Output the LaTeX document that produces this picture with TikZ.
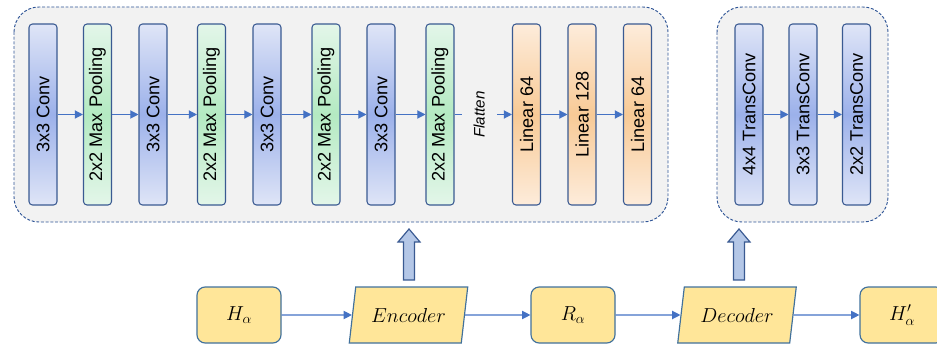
\documentclass[tikz,border=0pt]{standalone}
\usepackage{fontspec}
\setmainfont{Liberation Sans}
\usetikzlibrary{shapes.geometric,arrows.meta}

\definecolor{convlight}{HTML}{DFE5F7}
\definecolor{convdark}{HTML}{9CB1EA}
\definecolor{poollight}{HTML}{E3F6E9}
\definecolor{pooldark}{HTML}{B4EAC2}
\definecolor{linlight}{HTML}{FDECDB}
\definecolor{lindark}{HTML}{F8CA96}
\definecolor{barline}{HTML}{3A5A92}
\definecolor{panelfill}{HTML}{F2F2F2}
\definecolor{panelline}{HTML}{2F5597}
\definecolor{flowblue}{HTML}{4472C4}
\definecolor{ioyellow}{HTML}{FFE699}
\definecolor{ioline}{HTML}{41719C}
\definecolor{blockfill}{HTML}{B4C7E7}

\begin{document}
\begin{tikzpicture}[x=0.03cm,y=-0.03cm,
    bar/.style={draw=barline,line width=0.9pt,rounded corners=3pt,
        minimum width=0.84cm,minimum height=5.43cm,inner sep=0pt,
        font=\fontsize{15.5}{18}\selectfont},
    convbar/.style={bar,top color=convlight,bottom color=convlight,middle color=convdark},
    poolbar/.style={bar,top color=poollight,bottom color=poollight,middle color=pooldark},
    linbar/.style={bar,top color=linlight,bottom color=linlight,middle color=lindark},
    panel/.style={draw=panelline,fill=panelfill,dash pattern=on 2.5pt off 1.5pt,
        line width=0.8pt,rounded corners=0.75cm},
    flow/.style={draw=flowblue,line width=1pt,-{Triangle[width=7pt,length=7pt]}},
    iobox/.style={draw=ioline,fill=ioyellow,line width=1pt,rounded corners=7pt,
        minimum width=2.52cm,minimum height=1.68cm,font=\fontsize{18}{21}\selectfont},
    slantbox/.style={draw=ioline,fill=ioyellow,line width=1pt,shape=trapezium,
        trapezium left angle=77,trapezium right angle=103,trapezium stretches=true,
        minimum width=3.57cm,minimum height=1.68cm,font=\fontsize{18}{21}\selectfont},
    blockarrow/.style={draw=barline,fill=blockfill,line width=1pt}]

    %% picture frame
    \useasboundingbox (0,0) rectangle (937,345);

    %% dashed panels
    \draw[panel] (14,7) rectangle (668,222);
    \draw[panel] (717,7) rectangle (888,222);

    %% encoder layers
    \node[convbar] (c1) at (43,114.5) {\rotatebox{90}{3x3 Conv}};
    \node[poolbar] (p1) at (97.5,114.5) {\rotatebox{90}{2x2 Max Pooling}};
    \node[convbar] (c2) at (153,114.5) {\rotatebox{90}{3x3 Conv}};
    \node[poolbar] (p2) at (211.5,114.5) {\rotatebox{90}{2x2 Max Pooling}};
    \node[convbar] (c3) at (267,114.5) {\rotatebox{90}{3x3 Conv}};
    \node[poolbar] (p3) at (326,114.5) {\rotatebox{90}{2x2 Max Pooling}};
    \node[convbar] (c4) at (381,114.5) {\rotatebox{90}{3x3 Conv}};
    \node[poolbar] (p4) at (440,114.5) {\rotatebox{90}{2x2 Max Pooling}};
    \node[linbar] (l1) at (526.5,114.5) {\rotatebox{90}{Linear 64}};
    \node[linbar] (l2) at (582,114.5) {\rotatebox{90}{Linear 128}};
    \node[linbar] (l3) at (637.5,114.5) {\rotatebox{90}{Linear 64}};

    %% decoder layers
    \node[convbar] (t1) at (749,114.5) {\rotatebox{90}{4x4 TransConv}};
    \node[convbar] (t2) at (803,114.5) {\rotatebox{90}{3x3 TransConv}};
    \node[convbar] (t3) at (856.5,114.5) {\rotatebox{90}{2x2 TransConv}};

    %% arrows between layers
    \foreach \a/\b in {c1/p1,p1/c2,c2/p2,p2/c3,c3/p3,p3/c4,c4/p4,l1/l2,l2/l3,t1/t2,t2/t3}
        \draw[flow] (\a) -- (\b);
    \draw[flow] (p4) -- (l1)
        node[pos=0.43,fill=panelfill,inner sep=0pt,minimum height=1.05cm,rotate=90,
             font=\fontsize{13}{15}\selectfont\itshape] (flat) {Flatten};

    %% bottom row
    \node[iobox] (ha) at (239,315) {$H_\alpha$};
    \node[slantbox] (enc) at (408.5,315) {$Encoder$};
    \node[iobox] (ra) at (573,315) {$R_\alpha$};
    \node[slantbox] (dec) at (737,315) {$Decoder$};
    \node[iobox] (hb) at (902,315) {$H_\alpha'$};

    \draw[flow] (ha) -- (enc);
    \draw[flow] (enc) -- (ra);
    \draw[flow] (ra) -- (dec);
    \draw[flow] (dec) -- (hb);

    %% block arrows up into the panels
    \foreach \x in {409,739}
        \draw[blockarrow] (\x-5.5,280) -- (\x-5.5,242) -- (\x-11,242) -- (\x,229)
            -- (\x+11,242) -- (\x+5.5,242) -- (\x+5.5,280) -- cycle;
\end{tikzpicture}
\end{document}
